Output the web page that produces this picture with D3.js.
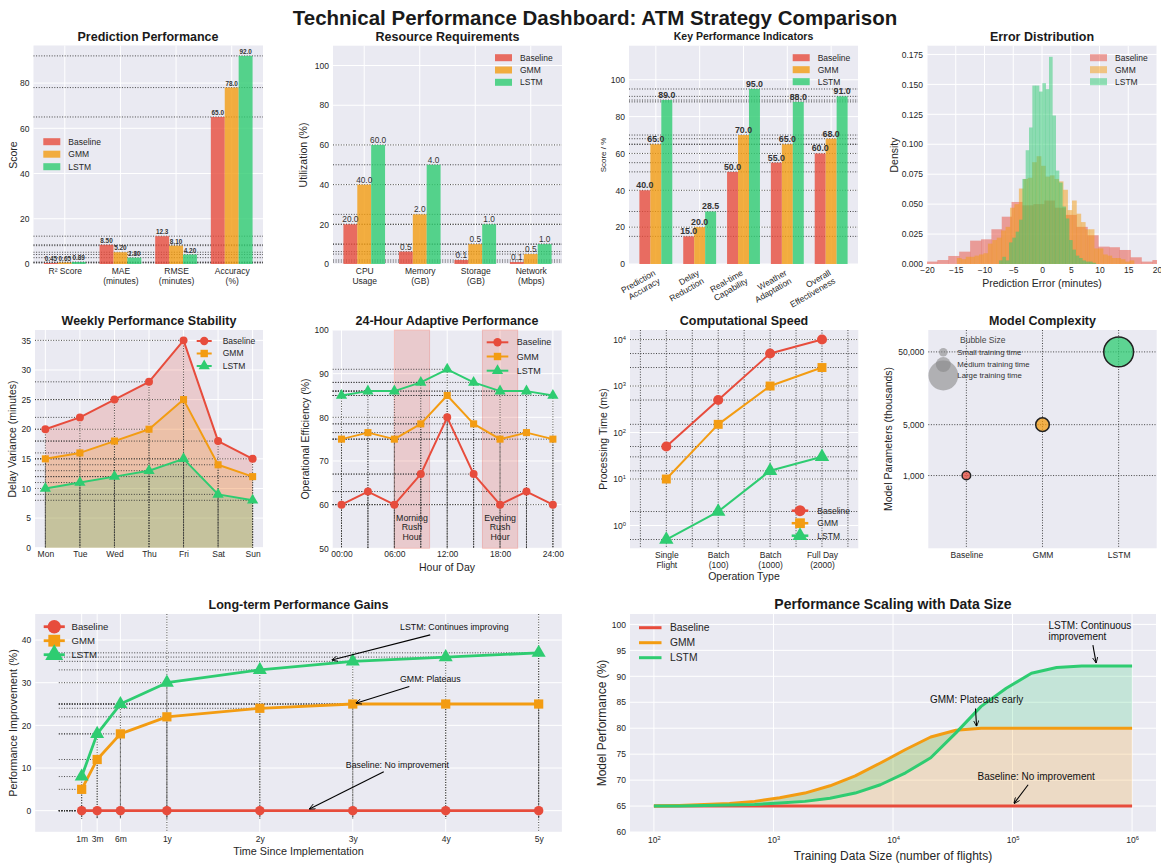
<!DOCTYPE html>
<html><head><meta charset="utf-8">
<script src="https://cdn.jsdelivr.net/npm/d3@7/dist/d3.min.js"></script>
<style>body{margin:0;background:#fff;}svg text{font-family:'Liberation Sans',Arial,sans-serif;}</style>
</head><body>
<svg id="chart" width="1161" height="863"></svg>
<script>
// ================= DATA =================
const models = ["Baseline","GMM","LSTM"];
const modelColors = ["#E74C3C","#F39C12","#2ECC71"];

const predCategories = ["R² Score","MAE\n(minutes)","RMSE\n(minutes)","Accuracy\n(%)"];
const predBaseline = [0.45, 8.5, 12.3, 65];
const predGMM = [0.65, 5.2, 8.1, 78];
const predLSTM = [0.89, 2.8, 4.2, 92];

const resCategories = ["CPU\nUsage","Memory\n(GB)","Storage\n(GB)","Network\n(Mbps)"];
const resBaselineHeight = [20, 6.25, 2, 1];
const resGMMHeight = [40, 25, 10, 5];
const resLSTMHeight = [60, 50, 20, 10];
const resBaselineValue = [20, 0.5, 0.1, 0.1];
const resGMMValue = [40, 2.0, 0.5, 0.5];
const resLSTMValue = [60, 4.0, 1.0, 1.0];

const kpiCategories = ["Prediction\nAccuracy","Delay\nReduction","Real-time\nCapability","Weather\nAdaptation","Overall\nEffectiveness"];
const kpiBaseline = [40, 15, 50, 55, 60];
const kpiGMM = [65, 20, 70, 65, 68];
const kpiLSTM = [89, 28.5, 95, 88, 91];

const errBaselineEdges = [-20.1,-18.2,-16.3,-14.4,-12.5,-10.6,-8.8,-7.0,-5.3,-3.4,-1.5,0.4,2.2,4.1,6.0,7.9,9.8,11.7,13.5,15.4,17.3,19.2,21.0];
const errBaselineDensity = [0.002,0.0033,0.0067,0.0103,0.0195,0.0206,0.029,0.0395,0.0518,0.049,0.050,0.053,0.047,0.041,0.031,0.024,0.0145,0.014,0.0117,0.0056,0.002,0.0033];
const errGMMEdges = [-14.80,-14.03,-13.26,-12.49,-11.72,-10.95,-10.18,-9.41,-8.64,-7.87,-7.10,-6.33,-5.56,-4.79,-4.02,-3.25,-2.48,-1.71,-0.94,-0.17,0.60,1.37,2.14,2.91,3.68,4.45,5.22,5.99,6.76,7.53,8.30,9.07,9.84,10.61,11.38,12.15,12.92,13.69,14.46,15.23,16.00];
const errGMMDensity = [0.005,0.004,0.006,0.006,0.007,0.008,0.009,0.017,0.020,0.022,0.028,0.031,0.047,0.050,0.063,0.071,0.072,0.085,0.090,0.082,0.073,0.074,0.071,0.069,0.062,0.045,0.053,0.042,0.035,0.029,0.029,0.013,0.013,0.008,0.007,0.005,0.005,0.004,0.002,0.003];
const errLSTMEdges = [-7.48,-6.90,-6.32,-5.74,-5.16,-4.58,-4.00,-3.42,-2.84,-2.26,-1.68,-1.10,-0.52,0.06,0.64,1.22,1.80,2.38,2.96,3.54,4.12,4.70,5.28,5.86,6.44,7.02,7.60,8.18,8.76,9.34];
const errLSTMDensity = [0.003,0.006,0.003,0.018,0.022,0.027,0.037,0.071,0.095,0.114,0.149,0.149,0.144,0.151,0.146,0.173,0.124,0.078,0.068,0.048,0.038,0.020,0.012,0.007,0.005,0.003,0.002,0.002,0.001];

const days = ["Mon","Tue","Wed","Thu","Fri","Sat","Sun"];
const weekBaseline = [20,22,25,28,35,18,15];
const weekGMM = [15,16,18,20,25,14,12];
const weekLSTM = [10,11,12,13,15,9,8];

const hours = [0,3,6,9,12,15,18,21,24];
const hourTicks = [0,6,12,18,24];
const hourTickLabels = ["00:00","06:00","12:00","18:00","24:00"];
const hourBaseline = [60,63,60,67,80,67,60,63,60];
const hourGMM = [75,76.5,75,78.5,85,78.5,75,76.5,75];
const hourLSTM = [85,86,86,88,91,88,86,86,85];
const rushStart = [6, 16];
const rushEnd = [10, 20];
const rushLabels = ["Morning\nRush\nHour","Evening\nRush\nHour"];

const opTypes = ["Single\nFlight","Batch\n(100)","Batch\n(1000)","Full Day\n(2000)"];
const speedBaseline = [50, 500, 5000, 10000];
const speedGMM = [10, 150, 1000, 2500];
const speedLSTM = [0.5, 2, 15, 30];
const speedGridX = [-0.5,0,0.5,1,1.5,2,2.5,3,3.5];

const complexityParams = [1000, 5000, 50000];
const complexitySize = [100, 250, 1200];
const complexityTicks = [1000, 5000, 50000];
const bubbleLegendSizes = [100, 300, 1200];
const bubbleLegendLabels = ["Small training time","Medium training time","Large training time"];

const gainMonths = [1,3,6,12,24,36,48,60];
const gainLabels = ["1m","3m","6m","1y","2y","3y","4y","5y"];
const gainBaseline = [0,0,0,0,0,0,0,0];
const gainGMM = [5,12,18,22,24,25,25,25];
const gainLSTM = [8,18,25,30,33,35,36,37];

const dataSizes = [100,162.4,263.7,428.1,695.2,1128.8,1833,2976.4,4832.9,7847.6,12742.7,20691.4,33598.2,54555.9,88586.7,143845,233572,379269,615848,1000000];
const scaleBaseline = [65,65,65,65,65,65,65,65,65,65,65,65,65,65,65,65,65,65,65,65];
const scaleGMM = [65.0,65.1,65.3,65.5,65.9,66.6,67.5,68.9,70.8,73.3,75.9,78.3,79.6,80.0,80.0,80.0,80.0,80.0,80.0,80.0];
const scaleLSTM = [65.0,65.0,65.1,65.2,65.3,65.6,65.9,66.5,67.5,69.1,71.4,74.3,79.1,84.2,87.7,90.6,91.7,92.0,92.0,92.0];

// annotations: [text, textX, textY, tailX, tailY, tipX, tipY]
const gainNotes = [
  ["LSTM: Continues improving", 42.1, 43.0, 46.0, 41.2, 33.3, 35.3],
  ["GMM: Plateaus", 42.1, 30.9, 43.3, 29.1, 36.4, 25.2],
  ["Baseline: No improvement", 35.1, 10.7, 40.0, 9.1, 30.4, 0.4]
];
const scaleNotes = [
  ["LSTM: Continuous\nimprovement", 2.0e5, 99.7, 4.7e5, 96.0, 5e5, 92.6],
  ["GMM: Plateaus early", 2.04e4, 85.6, 4.9e4, 83.8, 5e4, 80.4],
  ["Baseline: No improvement", 5.1e4, 70.6, 1.35e5, 69.1, 1.03e5, 65.5]
];

// ================= HELPERS =================
const FONT = "'Liberation Sans', Arial, sans-serif";
const TXT = "#262626";
const BG = "#EAEAF2";
const svg = d3.select("#chart");
svg.append("rect").attr("width",1161).attr("height",863).attr("fill","#fff");
const defs = svg.append("defs");
defs.append("marker").attr("id","arrowhead").attr("viewBox","0 0 10 10")
  .attr("refX",9.5).attr("refY",5).attr("markerWidth",6).attr("markerHeight",6)
  .attr("markerUnits","userSpaceOnUse").attr("orient","auto")
  .append("path").attr("d","M0,0.5 L10,5 L0,9.5").attr("fill","none").attr("stroke","#000").attr("stroke-width",1.4);

function frame(x0,y0,w,h,id){
  const g = svg.append("g").attr("transform",`translate(${x0},${y0})`);
  g.append("rect").attr("width",w).attr("height",h).attr("fill",BG);
  if(id){ defs.append("clipPath").attr("id",id).append("rect").attr("width",w).attr("height",h); }
  return g;
}
function gridH(g, vals, y, w){
  g.append("g").selectAll("line").data(vals).join("line")
    .attr("x1",0).attr("x2",w).attr("y1",d=>y(d)).attr("y2",d=>y(d))
    .attr("stroke","#fff").attr("stroke-width",1);
}
function gridV(g, vals, x, h){
  g.append("g").selectAll("line").data(vals).join("line")
    .attr("y1",0).attr("y2",h).attr("x1",d=>x(d)).attr("x2",d=>x(d))
    .attr("stroke","#fff").attr("stroke-width",1);
}
function dotted(g, x1,y1,x2,y2){
  g.append("line").attr("x1",x1).attr("y1",y1).attr("x2",x2).attr("y2",y2)
    .attr("stroke","#333").attr("stroke-width",0.9).attr("stroke-dasharray","1,1.6");
}
function multiline(sel, lh){
  sel.each(function(){
    const t=d3.select(this); const s=t.text();
    if(!s.includes("\n")) return;
    const dy0=t.attr("dy")||"0";
    t.text(null).attr("dy",null);
    s.split("\n").forEach((l,i)=>t.append("tspan").attr("x",0).attr("dy",i===0?dy0:(lh||"1.15em")).text(l));
  });
}
function axisL(g, y, vals, fmt, fs){
  const a=g.append("g").call(d3.axisLeft(y).tickValues(vals).tickFormat(fmt).tickSize(0).tickPadding(4));
  a.select(".domain").remove();
  a.selectAll("text").attr("font-size",fs||8.5).attr("fill",TXT).attr("font-family",FONT);
  return a;
}
function axisB(g, x, vals, fmt, h, fs, pad){
  const a=g.append("g").attr("transform",`translate(0,${h})`)
    .call(d3.axisBottom(x).tickValues(vals).tickFormat(fmt).tickSize(0).tickPadding(pad===undefined?4:pad));
  a.select(".domain").remove();
  a.selectAll("text").attr("font-size",fs||8.5).attr("fill",TXT).attr("font-family",FONT);
  multiline(a.selectAll("text"));
  return a;
}
function supify(a){
  a.selectAll("text").each(function(){
    const t=d3.select(this); const m=t.text().match(/^10\^(-?\d+)$/);
    if(m){ t.text("10"); t.append("tspan").attr("dy","-0.55em").attr("font-size","0.68em").text(m[1]); }
  });
}
function text(g, x, y, s, o){
  o=o||{};
  const t=g.append("text").attr("x",x).attr("y",y).attr("font-family",FONT)
    .attr("font-size",o.size||9).attr("fill",o.fill||TXT).attr("text-anchor",o.anchor||"start");
  if(o.weight) t.attr("font-weight",o.weight);
  if(o.transform) t.attr("transform",o.transform);
  const lines=String(s).split("\n");
  if(lines.length===1){ t.text(s); if(o.dy) t.attr("dy",o.dy); }
  else lines.forEach((l,i)=>t.append("tspan").attr("x",x).attr("dy",i===0?(o.dy||"0"):(o.lh||"1.15em")).text(l));
  return t;
}
function title(cx, cy, s, size){ text(svg, cx, cy, s, {size:size||12.5, weight:"bold", anchor:"middle", dy:"0.35em", fill:"#1a1a1a"}); }
function ylabel(cx, cy, s, size){ text(svg, 0, 0, s, {size:size||10.5, anchor:"middle", dy:"0.35em", transform:`translate(${cx},${cy}) rotate(-90)`}); }
function xlabel(cx, cy, s, size){ text(svg, cx, cy, s, {size:size||10.5, anchor:"middle", dy:"0.35em"}); }
const symbols=[d3.symbolCircle,d3.symbolSquare,d3.symbolTriangle];
function marker(g, cx, cy, k, size, color){
  g.append("path").attr("d",d3.symbol(symbols[k], size)()).attr("transform",`translate(${cx},${cy})`).attr("fill",color);
}
function legendPatches(x, y, dy, opacity){
  models.forEach((m,i)=>{
    svg.append("rect").attr("x",x).attr("y",y+i*dy-3.5).attr("width",17).attr("height",7)
      .attr("fill",modelColors[i]).attr("fill-opacity",opacity);
    text(svg, x+25, y+i*dy, m, {size:8.5, dy:"0.35em"});
  });
}
function legendLines(x1, x2, xt, y, dy, msize, lw, fs, withMarkers){
  models.forEach((m,i)=>{
    svg.append("line").attr("x1",x1).attr("x2",x2).attr("y1",y+i*dy).attr("y2",y+i*dy)
      .attr("stroke",modelColors[i]).attr("stroke-width",lw);
    if(withMarkers) marker(svg,(x1+x2)/2,y+i*dy,i,msize,modelColors[i]);
    text(svg, xt, y+i*dy, m, {size:fs, dy:"0.35em"});
  });
}
function seriesLine(g, xs, ys, x, y, k, lw, msize){
  g.append("path").datum(ys).attr("d", d3.line().x((d,i)=>x(xs[i])).y(d=>y(d)))
    .attr("fill","none").attr("stroke",modelColors[k]).attr("stroke-width",lw).attr("stroke-linejoin","round");
  ys.forEach((v,i)=>marker(g, x(xs[i]), y(v), k, msize, modelColors[k]));
}
function arrow(g, x1,y1,x2,y2){
  g.append("line").attr("x1",x1).attr("y1",y1).attr("x2",x2).attr("y2",y2)
    .attr("stroke","#000").attr("stroke-width",1.1).attr("marker-end","url(#arrowhead)");
}
function groupedBars(g, x, y, H, seriesList, fmtList, labelSize, labelWeight){
  seriesList.forEach((s,k)=>{
    g.append("g").selectAll("rect").data(s).join("rect")
      .attr("x",(d,i)=>x(i+(k-1)*0.25-0.125)).attr("width",x(0.25)-x(0))
      .attr("y",d=>y(d)).attr("height",d=>H-y(d))
      .attr("fill",modelColors[k]).attr("fill-opacity",0.8);
  });
  seriesList.forEach((s,k)=>{
    s.forEach((v,i)=>{
      text(g, x(i+(k-1)*0.25), y(v)-2, fmtList[k][i], {size:labelSize, anchor:"middle", weight:labelWeight, fill:"#333"});
    });
  });
}

// ================= TITLE =================
text(svg, 595, 18, "Technical Performance Dashboard: ATM Strategy Comparison", {size:20.5, weight:"bold", anchor:"middle", dy:"0.35em", fill:"#1a1a1a"});

// ================= P1: Prediction Performance =================
(function(){
  const X=33.5, Y=45.5, W=229.5, H=218.5;
  const g=frame(X,Y,W,H);
  const x=d3.scaleLinear().domain([-0.5625,3.5625]).range([0,W]);
  const y=d3.scaleLinear().domain([0,96.6]).range([H,0]);
  gridH(g,[0,20,40,60,80],y,W); gridV(g,[0,1,2,3],x,H);
  const S=[predBaseline,predGMM,predLSTM];
  S.forEach(s=>s.forEach(v=>dotted(g,0,y(v),W,y(v))));
  const fmt=v=>v<10?v.toFixed(2):v.toFixed(1);
  groupedBars(g,x,y,H,S,S.map(s=>s.map(fmt)),6.4,"bold");
  axisL(g,y,[0,20,40,60,80],d3.format("d"));
  axisB(g,x,[0,1,2,3],i=>predCategories[i],H,8.5,4);
  title(148,36.7,"Prediction Performance");
  ylabel(13.3,155,"Score");
  legendPatches(43.3,141.7,12.5,0.8);
})();

// ================= P2: Resource Requirements =================
(function(){
  const X=333, Y=45.7, W=229, H=218.3;
  const g=frame(X,Y,W,H);
  const x=d3.scaleLinear().domain([-0.5625,3.5625]).range([0,W]);
  const y=d3.scaleLinear().domain([0,110]).range([H,0]);
  gridH(g,[0,20,40,60,80,100],y,W); gridV(g,[0,1,2,3],x,H);
  const S=[resBaselineHeight,resGMMHeight,resLSTMHeight];
  S.forEach(s=>s.forEach(v=>dotted(g,0,y(v),W,y(v))));
  const L=[resBaselineValue,resGMMValue,resLSTMValue].map(s=>s.map(v=>v.toFixed(1)));
  groupedBars(g,x,y,H,S,L,8.3,null);
  axisL(g,y,[0,20,40,60,80,100],d3.format("d"));
  axisB(g,x,[0,1,2,3],i=>resCategories[i],H,8.5,4);
  title(447.5,36.7,"Resource Requirements");
  ylabel(303.3,155,"Utilization (%)");
  legendPatches(495,57.7,12.3,0.8);
})();

// ================= P3: KPI =================
(function(){
  const X=629, Y=45.7, W=229, H=218.3;
  const g=frame(X,Y,W,H);
  const x=d3.scaleLinear().domain([-0.6125,4.6125]).range([0,W]);
  const y=d3.scaleLinear().domain([0,118.5]).range([H,0]);
  gridH(g,[0,20,40,60,80,100],y,W); gridV(g,[0,1,2,3,4],x,H);
  const S=[kpiBaseline,kpiGMM,kpiLSTM];
  S.forEach(s=>s.forEach(v=>dotted(g,0,y(v),W,y(v))));
  groupedBars(g,x,y,H,S,S.map(s=>s.map(v=>v.toFixed(1))),8.8,"bold");
  axisL(g,y,[0,20,40,60,80,100],d3.format("d"));
  kpiCategories.forEach((c,i)=>{
    const cx=x(i)-3, cy=H+5;
    const t=g.append("text").attr("transform",`translate(${cx},${cy}) rotate(-30)`)
      .attr("text-anchor","end").attr("font-size",8.5).attr("fill",TXT).attr("font-family",FONT);
    c.split("\n").forEach((l,j)=>t.append("tspan").attr("x",0).attr("dy",j===0?"0.75em":"1.1em").text(l));
  });
  title(743.5,36.7,"Key Performance Indicators",10.5);
  ylabel(603.3,155,"Score / %",8);
  legendPatches(792.7,57.7,12,0.8);
})();

// ================= P4: Error Distribution =================
(function(){
  const X=927, Y=45.7, W=230, H=218.3;
  const g=frame(X,Y,W,H,"clipErr");
  const x=d3.scaleLinear().domain([-20,20]).range([0,W]);
  const y=d3.scaleLinear().domain([0,0.1823]).range([H,0]);
  gridH(g,[0,0.025,0.05,0.075,0.1,0.125,0.15,0.175],y,W); gridV(g,[-20,-15,-10,-5,0,5,10,15,20],x,H);
  const hg=g.append("g").attr("clip-path","url(#clipErr)");
  [[errBaselineEdges,errBaselineDensity],[errGMMEdges,errGMMDensity],[errLSTMEdges,errLSTMDensity]].forEach(([e,d],k)=>{
    hg.append("g").selectAll("rect").data(d).join("rect")
      .attr("x",(v,i)=>x(e[i])).attr("width",(v,i)=>x(e[i+1])-x(e[i])+0.3)
      .attr("y",v=>y(v)).attr("height",v=>H-y(v))
      .attr("fill",modelColors[k]).attr("fill-opacity",0.5);
  });
  axisL(g,y,[0,0.025,0.05,0.075,0.1,0.125,0.15,0.175],d3.format(".3f"));
  axisB(g,x,[-20,-15,-10,-5,0,5,10,15,20],d=>d<0?"\u2212"+Math.abs(d):String(d),H,8.5,3);
  title(1042,36.7,"Error Distribution");
  ylabel(894,155,"Density");
  xlabel(1042,283.3,"Prediction Error (minutes)");
  legendPatches(1090,57.7,12,0.5);
})();

// ================= P5: Weekly Performance Stability =================
(function(){
  const X=35, Y=330, W=228, H=217.7;
  const g=frame(X,Y,W,H);
  const x=d3.scaleLinear().domain([-0.3,6.3]).range([0,W]);
  const y=d3.scaleLinear().domain([0,36.75]).range([H,0]);
  gridH(g,[0,5,10,15,20,25,30,35],y,W); gridV(g,[0,1,2,3,4,5,6],x,H);
  const S=[weekBaseline,weekGMM,weekLSTM];
  const idx=days.map((d,i)=>i);
  S.forEach((s,k)=>{
    g.append("path").datum(s).attr("d",d3.area().x((d,i)=>x(i)).y0(y(0)).y1(d=>y(d)))
      .attr("fill",modelColors[k]).attr("fill-opacity",0.2);
  });
  S.forEach(s=>s.forEach((v,i)=>{ dotted(g,0,y(v),x(i),y(v)); dotted(g,x(i),y(v),x(i),H); }));
  S.forEach((s,k)=>seriesLine(g,idx,s,x,y,k,2,k===2?55:50));
  axisL(g,y,[0,5,10,15,20,25,30,35],d3.format("d"));
  axisB(g,x,idx,i=>days[i],H,8.5,3);
  title(149,320.7,"Weekly Performance Stability");
  ylabel(12.7,439,"Delay Variance (minutes)");
  legendLines(196.7,211.7,222.7,341,12.5,55,2,8.5,true);
})();

// ================= P6: 24-Hour Adaptive Performance =================
(function(){
  const X=332.7, Y=330, W=229, H=218.3;
  const g=frame(X,Y,W,H);
  const x=d3.scaleLinear().domain([-1,25]).range([0,W]);
  const y=d3.scaleLinear().domain([50,100]).range([H,0]);
  gridH(g,[50,60,70,80,90,100],y,W); gridV(g,hourTicks,x,H);
  rushStart.forEach((s,i)=>{
    g.append("rect").attr("x",x(s)).attr("width",x(rushEnd[i])-x(s)).attr("y",0).attr("height",H)
      .attr("fill","#E74C3C").attr("fill-opacity",0.2).attr("stroke","#E74C3C").attr("stroke-opacity",0.25);
  });
  const S=[hourBaseline,hourGMM,hourLSTM];
  S.forEach(s=>s.forEach((v,i)=>{ dotted(g,0,y(v),x(hours[i]),y(v)); dotted(g,x(hours[i]),y(v),x(hours[i]),H); }));
  rushStart.forEach((s,i)=>{
    text(g,x((s+rushEnd[i])/2),y(57),rushLabels[i],{size:8.8,anchor:"middle",dy:"0.35em",lh:"1.08em",fill:"#222"});
  });
  S.forEach((s,k)=>seriesLine(g,hours,s,x,y,k,2,k===2?55:50));
  axisL(g,y,[50,60,70,80,90,100],d3.format("d"));
  axisB(g,x,hourTicks,(d,i)=>hourTickLabels[i],H,8.5,3);
  title(447,320.7,"24-Hour Adaptive Performance");
  ylabel(305,439,"Operational Efficiency (%)");
  xlabel(447,567.3,"Hour of Day");
  legendLines(486.7,508.3,516.7,342.3,14.2,55,2,9,true);
})();

// ================= P7: Computational Speed =================
(function(){
  const X=630, Y=330, W=228.3, H=218.3;
  const g=frame(X,Y,W,H);
  const x=d3.scaleLinear().domain([-0.7,3.7]).range([0,W]);
  const y=d3.scaleLog().domain([Math.pow(10,-0.49),Math.pow(10,4.205)]).range([H,0]);
  gridH(g,[1,10,100,1000,10000],y,W);
  speedGridX.forEach(v=>dotted(g,x(v),0,x(v),H));
  const S=[speedBaseline,speedGMM,speedLSTM];
  S.forEach(s=>s.forEach(v=>dotted(g,0,y(v),W,y(v))));
  const idx=[0,1,2,3];
  S.forEach((s,k)=>seriesLine(g,idx,s,x,y,k,2,k===2?90:80));
  const a=axisL(g,y,[1,10,100,1000,10000],d=>"10^"+Math.round(Math.log10(d)),8.5);
  supify(a);
  axisB(g,x,idx,i=>opTypes[i],H,8.5,4);
  title(744,320.7,"Computational Speed");
  ylabel(603.3,439,"Processing Time (ms)");
  xlabel(744,576.7,"Operation Type");
  legendLines(791.7,808.3,817.3,510.7,12.5,95,2.5,8.5,true);
})();

// ================= P8: Model Complexity =================
(function(){
  const X=928.3, Y=330, W=228.4, H=218.3;
  const g=frame(X,Y,W,H);
  const x=d3.scaleLinear().domain([-0.5,2.5]).range([0,W]);
  const y=d3.scaleLog().domain([100,100000]).range([H,0]);
  const r=d3.scaleSqrt().domain([0,1200]).range([0,14.9]);
  [0,1,2].forEach(i=>dotted(g,x(i),0,x(i),H));
  complexityTicks.forEach(v=>dotted(g,0,y(v),W,y(v)));
  complexityParams.forEach((p,i)=>{
    g.append("circle").attr("cx",x(i)).attr("cy",y(p)).attr("r",r(complexitySize[i]))
      .attr("fill",modelColors[i]).attr("fill-opacity",0.75).attr("stroke","#222").attr("stroke-width",1.5);
  });
  axisL(g,y,complexityTicks,d3.format(","),8.5);
  axisB(g,x,[0,1,2],i=>models[i],H,8.5,4);
  title(1042.5,320.7,"Model Complexity");
  ylabel(888.3,439,"Model Parameters (thousands)");
  text(svg,960,340,"Bubble Size",{size:8.5,dy:"0.35em",fill:"#444"});
  const ly=[352.3,364.5,375.5];
  bubbleLegendSizes.forEach((s,i)=>{
    svg.append("circle").attr("cx",943.3).attr("cy",ly[i]).attr("r",r(s)).attr("fill","#888").attr("fill-opacity",0.6);
  });
  bubbleLegendLabels.forEach((l,i)=>text(svg,957.3,ly[i],l,{size:7.8,dy:"0.35em",fill:"#333"}));
})();

// ================= P9: Long-term Performance Gains =================
(function(){
  const X=35.2, Y=614, W=526.7, H=217.8;
  const g=frame(X,Y,W,H);
  const x=d3.scaleLinear().domain([-5,63]).range([0,W]);
  const y=d3.scaleLinear().domain([-4.95,46.1]).range([H,0]);
  gridH(g,[0,10,20,30,40],y,W); gridV(g,gainMonths,x,H);
  dotted(g,x(12),0,x(12),H); dotted(g,x(60),0,x(60),H);
  const S=[gainBaseline,gainGMM,gainLSTM];
  S.forEach(s=>s.forEach((v,i)=>{ dotted(g,x(-1.95),y(v),x(gainMonths[i]),y(v)); dotted(g,x(gainMonths[i]),y(v),x(gainMonths[i]),y(-1.85)); }));
  S.forEach((s,k)=>seriesLine(g,gainMonths,s,x,y,k,2.8,k===0?70:85));
  gainNotes.forEach(n=>{
    text(g,x(n[1]),y(n[2]),n[0],{size:8.8,dy:"0.35em",fill:"#111"});
    arrow(g,x(n[3]),y(n[4]),x(n[5]),y(n[6]));
  });
  axisL(g,y,[0,10,20,30,40],d3.format("d"),8.5);
  axisB(g,x,gainMonths,(d,i)=>gainLabels[i],H,8.5,4);
  title(298.5,604.3,"Long-term Performance Gains");
  ylabel(13,723,"Performance Improvement (%)",10.8);
  xlabel(298.5,851.7,"Time Since Implementation",10.8);
  legendLines(43.7,64.8,71.5,626.7,14,140,2.8,9.6,true);
})();

// ================= P10: Performance Scaling with Data Size =================
(function(){
  const X=630, Y=614, W=526, H=218;
  const g=frame(X,Y,W,H);
  const x=d3.scaleLog().domain([Math.pow(10,1.8),Math.pow(10,6.2)]).range([0,W]);
  const y=d3.scaleLinear().domain([60,102]).range([H,0]);
  gridH(g,[60,65,70,75,80,85,90,95,100],y,W); gridV(g,[100,1000,10000,100000,1000000],x,H);
  g.append("path").datum(dataSizes).attr("d",d3.area().x(d=>x(d)).y0((d,i)=>y(scaleBaseline[i])).y1((d,i)=>y(scaleGMM[i])))
    .attr("fill","#F39C12").attr("fill-opacity",0.2);
  g.append("path").datum(dataSizes).attr("d",d3.area().x(d=>x(d)).y0((d,i)=>y(scaleGMM[i])).y1((d,i)=>y(scaleLSTM[i])))
    .attr("fill","#2ECC71").attr("fill-opacity",0.2);
  [scaleBaseline,scaleGMM,scaleLSTM].forEach((s,k)=>{
    g.append("path").datum(s).attr("d",d3.line().x((d,i)=>x(dataSizes[i])).y(d=>y(d)))
      .attr("fill","none").attr("stroke",modelColors[k]).attr("stroke-width",3).attr("stroke-linejoin","round");
  });
  scaleNotes.forEach(n=>{
    text(g,x(n[1]),y(n[2]),n[0],{size:10,dy:"0.35em",lh:"1.08em",fill:"#111"});
    arrow(g,x(n[3]),y(n[4]),x(n[5]),y(n[6]));
  });
  axisL(g,y,[60,65,70,75,80,85,90,95,100],d3.format("d"),8.5);
  const a=axisB(g,x,[100,1000,10000,100000,1000000],d=>"10^"+Math.round(Math.log10(d)),H,8.5,5);
  supify(a);
  title(893,604.3,"Performance Scaling with Data Size",14);
  ylabel(602,723,"Model Performance (%)",12);
  xlabel(893,856,"Training Data Size (number of flights)",12);
  legendLines(639,661.5,670,627.7,15,0,3,10.3,false);
})();
</script>
</body></html>
